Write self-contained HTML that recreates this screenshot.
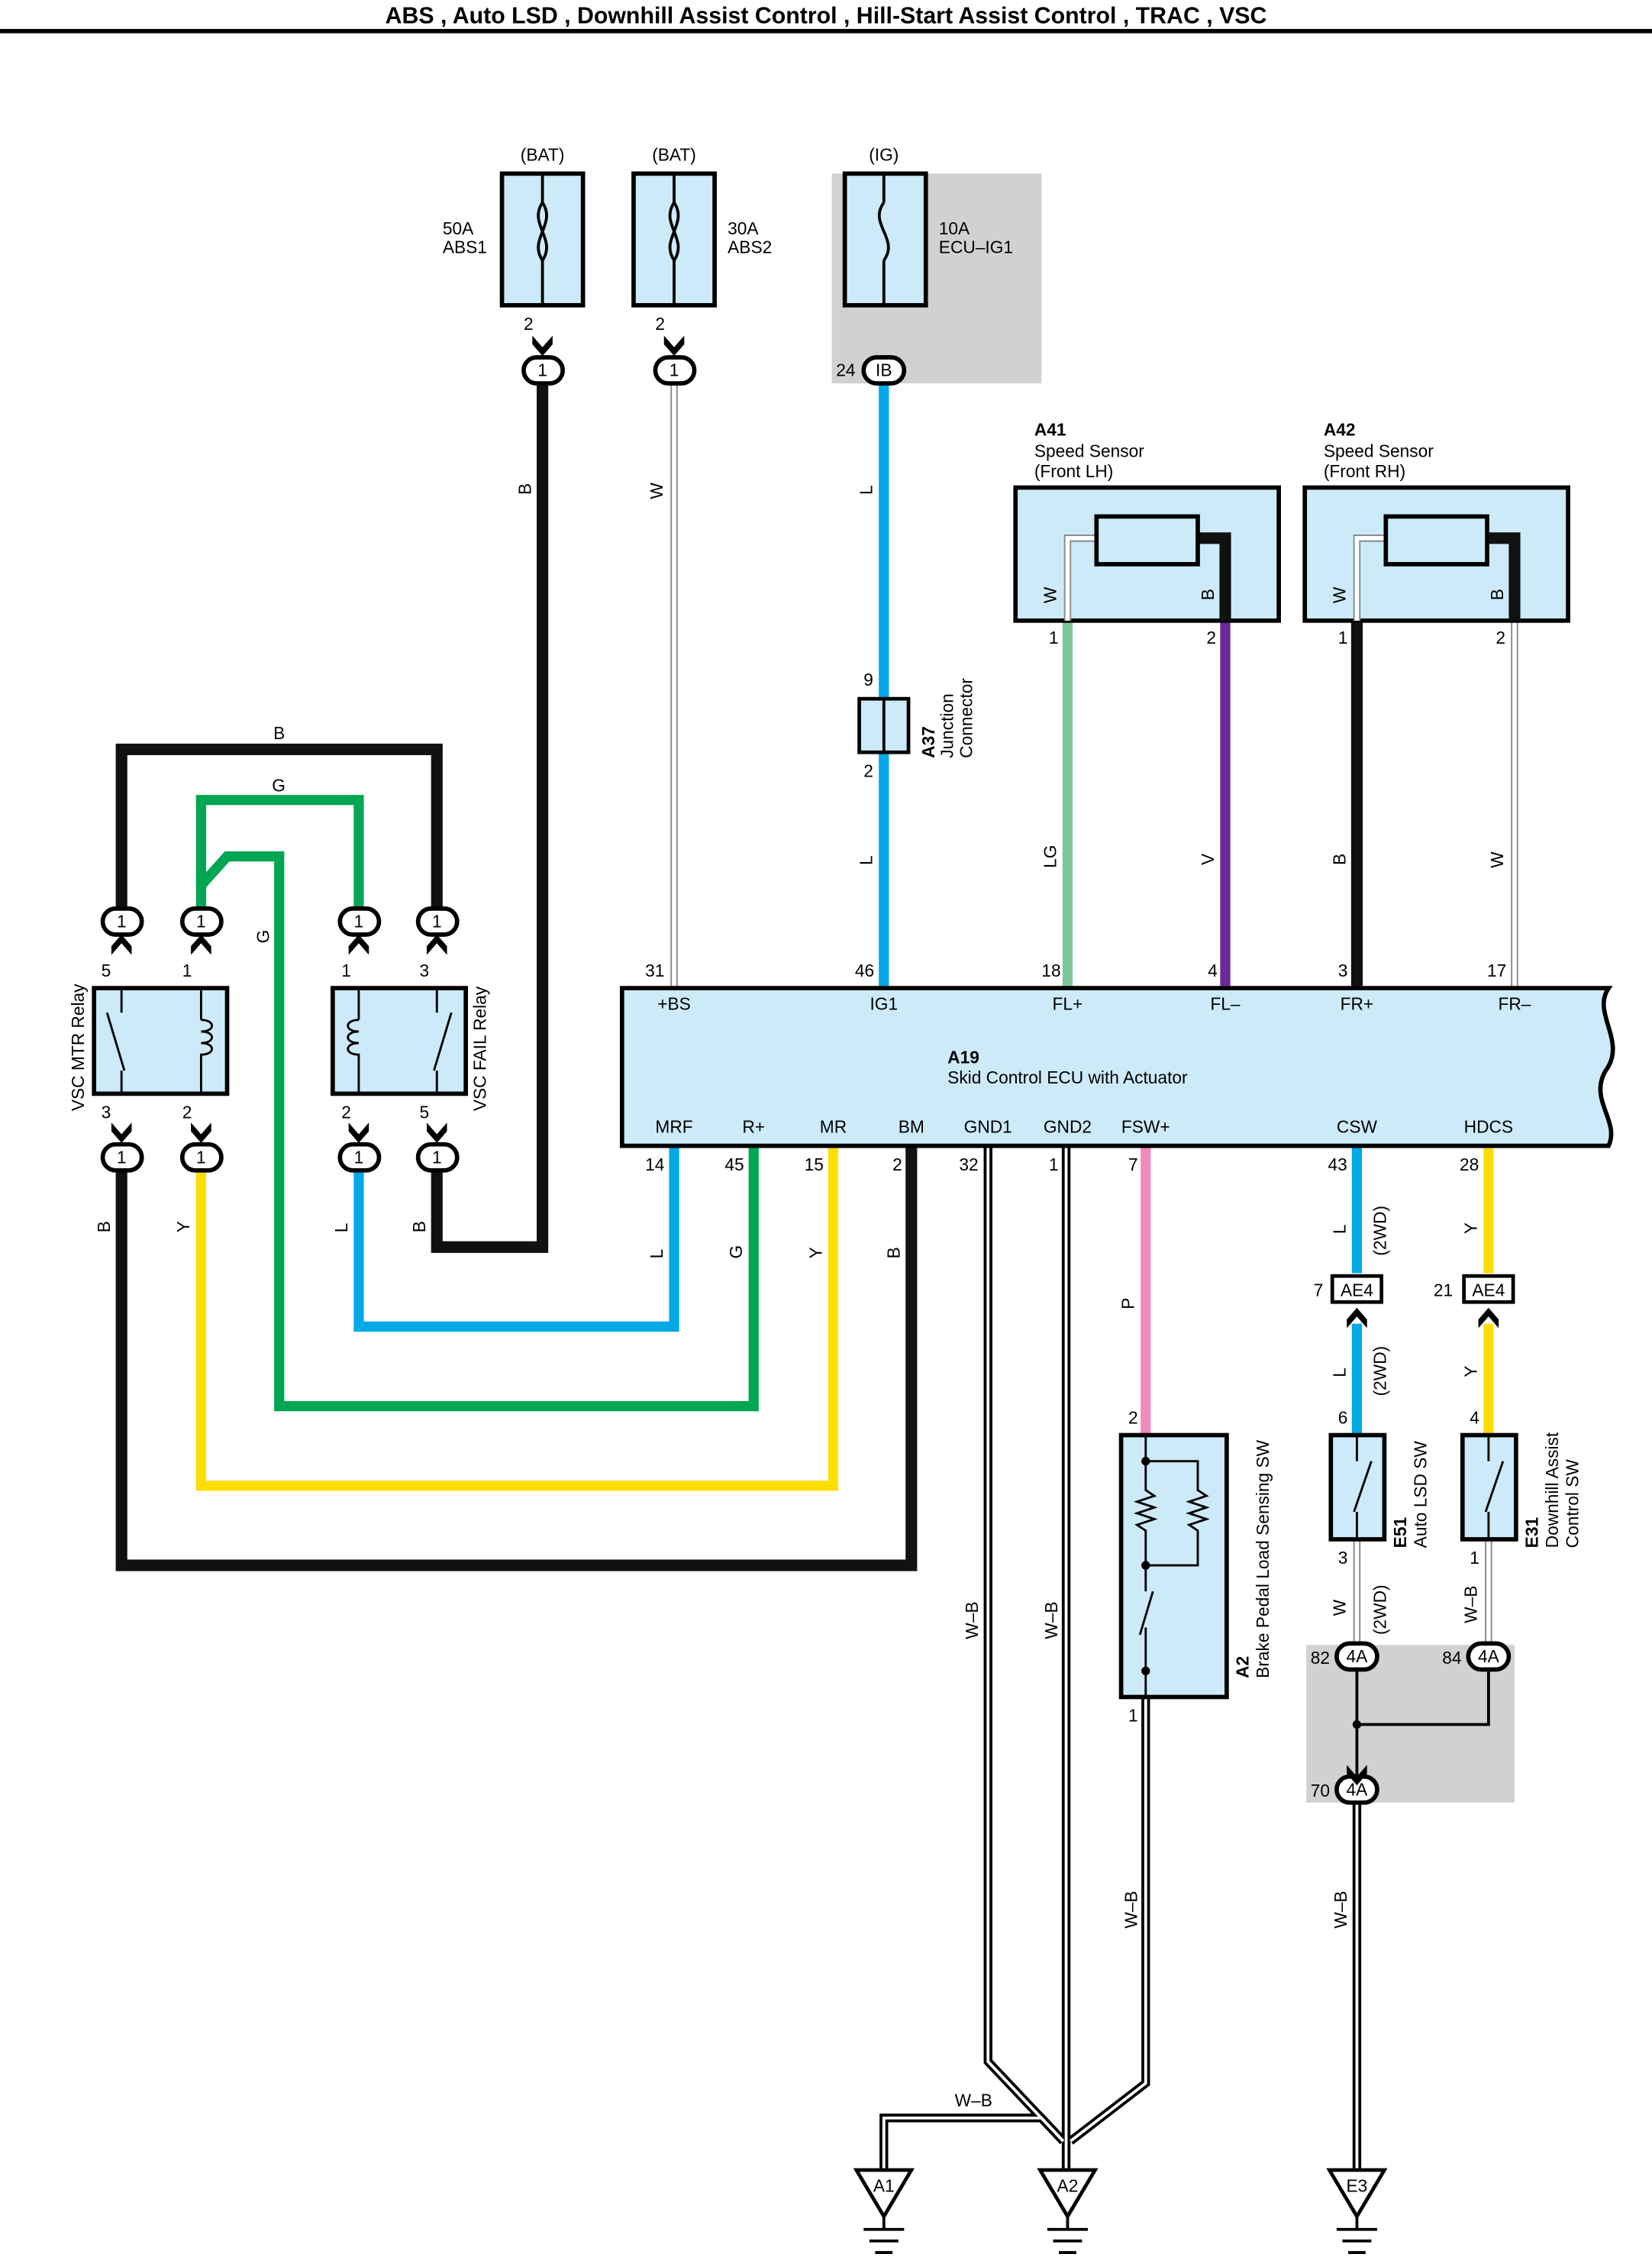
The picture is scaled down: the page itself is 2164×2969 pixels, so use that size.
<!DOCTYPE html>
<html><head><meta charset="utf-8"><style>html,body{margin:0;padding:0;background:#fff}svg{display:block}</style></head>
<body>
<svg width="2164" height="2969" viewBox="0 0 1142 1567" preserveAspectRatio="none" xmlns="http://www.w3.org/2000/svg" font-family="Liberation Sans, sans-serif" font-size="12">
<rect width="1142" height="1567" fill="#fff"/>
<text x="571" y="16" text-anchor="middle" font-weight="bold" font-size="16">ABS , Auto LSD , Downhill Assist Control , Hill-Start Assist Control , TRAC , VSC</text>
<rect x="0" y="20" width="1142" height="3" fill="#000"/>

<!-- gray areas -->
<rect x="575" y="120" width="145" height="145" fill="#d0d1d3"/>
<rect x="903" y="1137" width="144" height="109" fill="#d0d1d3"/>

<!-- fuses -->
<g stroke="#000" stroke-width="3" fill="#cdeaf8">
<rect x="347" y="120" width="56" height="91"/>
<rect x="438" y="120" width="56" height="91"/>
<rect x="584" y="120" width="56" height="91"/>
</g>
<g stroke="#000" stroke-width="2" fill="none">
<path d="M375 140 C365 155,385 165,375 180 M375 140 C385 155,365 165,375 180"/>
<path d="M466 140 C456 155,476 165,466 180 M466 140 C476 155,456 165,466 180"/>
<path d="M611 140 C600 155,622 165,611 180"/>
<path d="M375 120 V140 M375 180 V211 M466 120 V140 M466 180 V211 M611 120 V140 M611 180 V211"/>
</g>
<g text-anchor="middle"><text x="375" y="111">(BAT)</text><text x="466" y="111">(BAT)</text><text x="611" y="111">(IG)</text></g>
<text x="306" y="162">50A</text><text x="306" y="175">ABS1</text>
<text x="503" y="162">30A</text><text x="503" y="175">ABS2</text>
<text x="649" y="162">10A</text><text x="649" y="175">ECU–IG1</text>
<text x="362" y="228">2</text><text x="453" y="228">2</text><text x="578" y="260">24</text>

<!-- main wires -->
<g fill="none" stroke-linejoin="miter">
<path d="M375 265 V862 H302 V810" stroke="#111" stroke-width="8"/>
<path d="M466 265 V683" stroke="#888" stroke-width="5"/><path d="M466 265 V683" stroke="#fff" stroke-width="3"/>
<path d="M611 265 V683" stroke="#00a8e6" stroke-width="7"/>
<path d="M738 429 V683" stroke="#7dc79a" stroke-width="7"/>
<path d="M847 429 V683" stroke="#6c2a9a" stroke-width="7"/>
<path d="M938 429 V683" stroke="#111" stroke-width="8"/>
<path d="M1047 429 V683" stroke="#888" stroke-width="5"/><path d="M1047 429 V683" stroke="#fff" stroke-width="3"/>
<!-- relay loops -->
<path d="M84 630 V518 H302 V630" stroke="#111" stroke-width="8"/>
<path d="M139 630 V553 H248 V630" stroke="#00a651" stroke-width="7"/>
<path d="M139 612 L157 592 H193 V972 H521 V792" stroke="#00a651" stroke-width="7"/>
<path d="M84 810 V1082 H630 V792" stroke="#111" stroke-width="8"/>
<path d="M139 810 V1027 H576 V792" stroke="#ffde00" stroke-width="7"/>
<path d="M248 810 V917 H466 V792" stroke="#00a8e6" stroke-width="7"/>
<!-- right wires -->
<path d="M792 792 V992" stroke="#f08cbc" stroke-width="7"/>
<path d="M938 792 V880 M938 915 V992" stroke="#00a8e6" stroke-width="7"/>
<path d="M1029 792 V880 M1029 915 V992" stroke="#ffde00" stroke-width="7"/>
<path d="M938 1064 V1137 M1029 1064 V1137" stroke="#888" stroke-width="5"/>
<path d="M938 1064 V1137 M1029 1064 V1137" stroke="#fff" stroke-width="3"/>
<path d="M938 1155 V1192 H1029 V1155" stroke="#000" stroke-width="2"/>
<path d="M938 1192 V1228" stroke="#000" stroke-width="2"/>
<!-- ground wires -->
<g stroke="#000" stroke-width="6">
<path d="M683 792 V1425 L735 1480"/><path d="M737 792 V1500"/><path d="M792 1173 V1440 L740 1480"/>
<path d="M735 1480 L720 1464 H611 V1500"/><path d="M938 1246 V1500"/>
</g>
<g stroke="#fff" stroke-width="2">
<path d="M683 792 V1425 L735 1480"/><path d="M737 792 V1500"/><path d="M792 1173 V1440 L740 1480"/>
<path d="M735 1480 L720 1464 H611 V1500"/><path d="M938 1246 V1500"/>
</g>
</g>

<!-- connector ovals -->
<g stroke="#000" stroke-width="3" fill="#fff">
<rect x="362" y="247" width="27" height="18" rx="9"/><rect x="453" y="247" width="27" height="18" rx="9"/>
<rect x="597" y="247" width="28" height="18" rx="9"/>
<rect x="71" y="628" width="27" height="18" rx="9"/><rect x="126" y="628" width="27" height="18" rx="9"/>
<rect x="235" y="628" width="27" height="18" rx="9"/><rect x="289" y="628" width="27" height="18" rx="9"/>
<rect x="71" y="791" width="27" height="18" rx="9"/><rect x="126" y="791" width="27" height="18" rx="9"/>
<rect x="235" y="791" width="27" height="18" rx="9"/><rect x="289" y="791" width="27" height="18" rx="9"/>
<rect x="924" y="1136" width="28" height="18" rx="9"/><rect x="1015" y="1136" width="28" height="18" rx="9"/>
<rect x="924" y="1228" width="28" height="18" rx="9"/>
</g>
<g text-anchor="middle">
<text x="375" y="260">1</text><text x="466" y="260">1</text><text x="611" y="260">IB</text>
<text x="84" y="641">1</text><text x="139" y="641">1</text><text x="248" y="641">1</text><text x="302" y="641">1</text>
<text x="84" y="804">1</text><text x="139" y="804">1</text><text x="248" y="804">1</text><text x="302" y="804">1</text>
<text x="938" y="1149">4A</text><text x="1029" y="1149">4A</text><text x="938" y="1241">4A</text>
</g>
<!-- arrow chevrons -->
<g fill="#000">
<path d="M368 232 L375 240 L382 232 L382 238 L375 246 L368 238Z"/><path d="M459 232 L466 240 L473 232 L473 238 L466 246 L459 238Z"/>
<path d="M77 654 L84 646 L91 654 L91 660 L84 652 L77 660Z"/><path d="M132 654 L139 646 L146 654 L146 660 L139 652 L132 660Z"/>
<path d="M241 654 L248 646 L255 654 L255 660 L248 652 L241 660Z"/><path d="M295 654 L302 646 L309 654 L309 660 L302 652 L295 660Z"/>
<path d="M77 776 L84 784 L91 776 L91 782 L84 790 L77 782Z"/><path d="M132 776 L139 784 L146 776 L146 782 L139 790 L132 782Z"/>
<path d="M241 776 L248 784 L255 776 L255 782 L248 790 L241 782Z"/><path d="M295 776 L302 784 L309 776 L309 782 L302 790 L295 782Z"/>
<path d="M931 912 L938 904 L945 912 L945 918 L938 910 L931 918Z"/><path d="M1022 912 L1029 904 L1036 912 L1036 918 L1029 910 L1022 918Z"/>
<path d="M931 1220 L938 1228 L945 1220 L945 1226 L938 1234 L931 1226Z"/>
</g>
<!-- AE4 connectors -->
<g stroke="#000" stroke-width="2.5" fill="#fff"><rect x="921" y="882" width="34" height="18"/><rect x="1012" y="882" width="34" height="18"/></g>
<text x="938" y="896" text-anchor="middle">AE4</text><text x="1029" y="896" text-anchor="middle">AE4</text>
<text x="908" y="896">7</text><text x="991" y="896">21</text>

<!-- A37 junction -->
<rect x="594" y="483" width="34" height="37" fill="#cdeaf8" stroke="#000" stroke-width="2.5"/>
<line x1="611" y1="483" x2="611" y2="520" stroke="#000" stroke-width="2"/>
<text x="597" y="474">9</text><text x="597" y="537">2</text>
<g transform="translate(646,524) rotate(-90)"><text font-weight="bold">A37</text><text x="0" y="13">Junction</text><text x="0" y="26">Connector</text></g>

<!-- speed sensors -->
<g stroke="#000" stroke-width="3" fill="#cdeaf8"><rect x="702" y="337" width="182" height="92"/><rect x="902" y="337" width="182" height="92"/></g>
<g fill="none">
<path d="M738 429 V372 H758" stroke="#888" stroke-width="5"/><path d="M738 429 V372 H758" stroke="#fff" stroke-width="3"/>
<path d="M847 429 V372 H828" stroke="#111" stroke-width="8"/>
<path d="M938 429 V372 H958" stroke="#888" stroke-width="5"/><path d="M938 429 V372 H958" stroke="#fff" stroke-width="3"/>
<path d="M1047 429 V372 H1028" stroke="#111" stroke-width="8"/>
</g>
<g stroke="#000" stroke-width="3" fill="#cdeaf8"><rect x="758" y="357" width="70" height="33"/><rect x="958" y="357" width="70" height="33"/></g>
<text x="715" y="301" font-weight="bold">A41</text><text x="715" y="316">Speed Sensor</text><text x="715" y="330">(Front LH)</text>
<text x="915" y="301" font-weight="bold">A42</text><text x="915" y="316">Speed Sensor</text><text x="915" y="330">(Front RH)</text>
<text x="725" y="445">1</text><text x="834" y="445">2</text><text x="925" y="445">1</text><text x="1034" y="445">2</text>

<!-- ECU -->
<path d="M430 683 H1112 C1100 700,1125 720,1110 740 C1098 760,1120 775,1112 792 H430 Z" fill="#cdeaf8" stroke="#000" stroke-width="3"/>
<g text-anchor="middle">
<text x="466" y="698">+BS</text><text x="611" y="698">IG1</text><text x="738" y="698">FL+</text><text x="847" y="698">FL–</text><text x="938" y="698">FR+</text><text x="1047" y="698">FR–</text>
<text x="466" y="783">MRF</text><text x="521" y="783">R+</text><text x="576" y="783">MR</text><text x="630" y="783">BM</text><text x="683" y="783">GND1</text><text x="738" y="783">GND2</text><text x="792" y="783">FSW+</text><text x="938" y="783">CSW</text><text x="1029" y="783">HDCS</text>
</g>
<text x="655" y="735" font-weight="bold">A19</text><text x="655" y="749">Skid Control ECU with Actuator</text>
<g font-size="12">
<text x="446" y="675">31</text><text x="591" y="675">46</text><text x="720" y="675">18</text><text x="835" y="675">4</text><text x="925" y="675">3</text><text x="1028" y="675">17</text>
<text x="446" y="809">14</text><text x="501" y="809">45</text><text x="556" y="809">15</text><text x="617" y="809">2</text><text x="663" y="809">32</text><text x="725" y="809">1</text><text x="780" y="809">7</text><text x="918" y="809">43</text><text x="1009" y="809">28</text>
<text x="780" y="984">2</text><text x="925" y="984">6</text><text x="1016" y="984">4</text><text x="925" y="1081">3</text><text x="1016" y="1081">1</text><text x="780" y="1190">1</text>
<text x="906" y="1150">82</text><text x="997" y="1150">84</text><text x="906" y="1242">70</text>
<text x="70" y="675">5</text><text x="126" y="675">1</text><text x="236" y="675">1</text><text x="290" y="675">3</text>
<text x="70" y="773">3</text><text x="126" y="773">2</text><text x="236" y="773">2</text><text x="290" y="773">5</text>
</g>

<!-- relays -->
<g stroke="#000" stroke-width="3" fill="#cdeaf8"><rect x="65" y="683" width="92" height="73"/><rect x="230" y="683" width="92" height="73"/></g>
<g stroke="#000" stroke-width="1.5" fill="none">
<path d="M84 683 V700 M84 740 V756 M74 700 L86 740"/><path d="M302 683 V700 M302 740 V756 M312 700 L300 740"/>
<path d="M139 683 V705 M139 735 V756"/><path d="M248 683 V705 M248 735 V756"/>
<path d="M139 705 c10 0 10 8 0 8 c10 0 10 8 0 8 c10 0 10 8 0 8 V735"/>
<path d="M248 705 c-10 0 -10 8 0 8 c-10 0 -10 8 0 8 c-10 0 -10 8 0 8 V735"/>
</g>
<text transform="translate(58,768) rotate(-90)">VSC MTR Relay</text>
<text transform="translate(336,768) rotate(-90)">VSC FAIL Relay</text>

<!-- A2 -->
<rect x="775" y="992" width="73" height="181" fill="#cdeaf8" stroke="#000" stroke-width="3"/>
<g stroke="#000" stroke-width="1.5" fill="none">
<path d="M792 992 V1010 H828 V1030 l6 4 -12 4 12 4 -12 4 12 4 -12 4 6 4 V1082 H792"/>
<path d="M792 1010 V1030 l6 4 -12 4 12 4 -12 4 12 4 -12 4 6 4 V1100 M792 1125 V1155 M797 1100 L788 1130 M792 1155 V1173"/>
</g>
<g fill="#000"><circle cx="792" cy="1010" r="3"/><circle cx="792" cy="1082" r="3"/><circle cx="792" cy="1155" r="3"/><circle cx="938" cy="1192" r="3"/></g>
<g transform="translate(863,1160) rotate(-90)"><text font-weight="bold">A2</text><text x="0" y="14">Brake Pedal Load Sensing SW</text></g>

<!-- E51 E31 -->
<g stroke="#000" stroke-width="3" fill="#cdeaf8"><rect x="920" y="992" width="37" height="72"/><rect x="1011" y="992" width="37" height="72"/></g>
<g stroke="#000" stroke-width="1.5" fill="none"><path d="M938 992 V1010 M938 1045 V1064 M948 1010 L936 1045"/><path d="M1029 992 V1010 M1029 1045 V1064 M1039 1010 L1027 1045"/></g>
<g transform="translate(972,1070) rotate(-90)"><text font-weight="bold">E51</text><text x="0" y="14">Auto LSD SW</text></g>
<g transform="translate(1063,1070) rotate(-90)"><text font-weight="bold">E31</text><text x="0" y="14">Downhill Assist</text><text x="0" y="28">Control SW</text></g>

<!-- wire labels rotated -->
<g font-size="12">
<text transform="translate(367,342) rotate(-90)">B</text>
<text transform="translate(458,345) rotate(-90)">W</text>
<text transform="translate(603,342) rotate(-90)">L</text>
<text transform="translate(603,598) rotate(-90)">L</text>
<text transform="translate(730,600) rotate(-90)">LG</text>
<text transform="translate(839,598) rotate(-90)">V</text>
<text transform="translate(930,598) rotate(-90)">B</text>
<text transform="translate(1039,600) rotate(-90)">W</text>
<text transform="translate(730,417) rotate(-90)">W</text>
<text transform="translate(839,415) rotate(-90)">B</text>
<text transform="translate(930,417) rotate(-90)">W</text>
<text transform="translate(1039,415) rotate(-90)">B</text>
<text transform="translate(186,652) rotate(-90)">G</text>
<text transform="translate(76,852) rotate(-90)">B</text>
<text transform="translate(131,852) rotate(-90)">Y</text>
<text transform="translate(240,852) rotate(-90)">L</text>
<text transform="translate(294,852) rotate(-90)">B</text>
<text transform="translate(458,870) rotate(-90)">L</text>
<text transform="translate(513,870) rotate(-90)">G</text>
<text transform="translate(568,870) rotate(-90)">Y</text>
<text transform="translate(622,870) rotate(-90)">B</text>
<text transform="translate(784,905) rotate(-90)">P</text>
<text transform="translate(930,853) rotate(-90)">L</text>
<text transform="translate(958,868) rotate(-90)">(2WD)</text>
<text transform="translate(1021,853) rotate(-90)">Y</text>
<text transform="translate(930,952) rotate(-90)">L</text>
<text transform="translate(958,965) rotate(-90)">(2WD)</text>
<text transform="translate(1021,952) rotate(-90)">Y</text>
<text transform="translate(930,1117) rotate(-90)">W</text>
<text transform="translate(958,1130) rotate(-90)">(2WD)</text>
<text transform="translate(1021,1122) rotate(-90)">W–B</text>
<text transform="translate(676,1133) rotate(-90)">W–B</text>
<text transform="translate(731,1133) rotate(-90)">W–B</text>
<text transform="translate(786,1333) rotate(-90)">W–B</text>
<text transform="translate(931,1333) rotate(-90)">W–B</text>
</g>
<text x="189" y="511">B</text><text x="188" y="547">G</text><text x="660" y="1456">W–B</text>

<!-- grounds -->
<g stroke="#000" stroke-width="2.5" fill="#fff">
<path d="M592 1500 H630 L611 1532Z"/><path d="M719 1500 H757 L738 1532Z"/><path d="M919 1500 H957 L938 1532Z"/>
</g>
<g stroke="#000" stroke-width="2">
<path d="M611 1532 V1541 M597 1541 H625 M601 1549 H621 M605 1557 H617"/>
<path d="M738 1532 V1541 M724 1541 H752 M728 1549 H748 M732 1557 H744"/>
<path d="M938 1532 V1541 M924 1541 H952 M928 1549 H948 M932 1557 H944"/>
</g>
<g text-anchor="middle"><text x="611" y="1515">A1</text><text x="738" y="1515">A2</text><text x="938" y="1515">E3</text></g>
</svg>
</body></html>
